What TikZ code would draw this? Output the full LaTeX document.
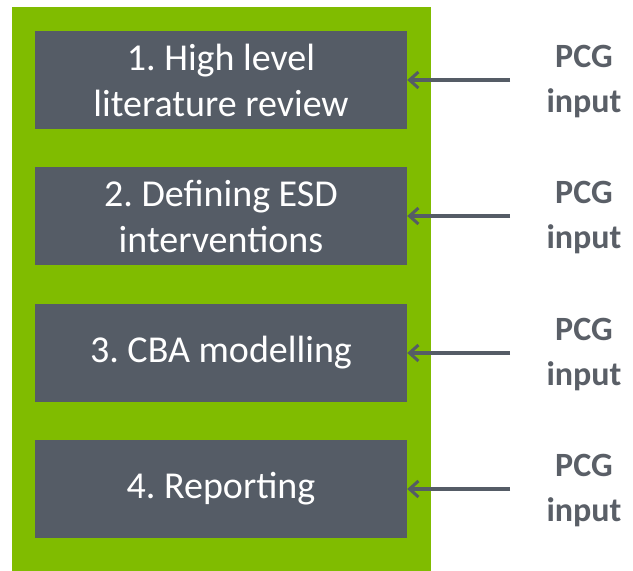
\documentclass[tikz,border=0pt]{standalone}
\usepackage{fontspec}
\setmainfont{Carlito}
\usepackage{tikz}
\usetikzlibrary{positioning,arrows.meta}
\usepackage{xcolor}
\definecolor{frame}{HTML}{80BC00}
\definecolor{stage}{HTML}{555C66}
\definecolor{pcggray}{HTML}{5A5F67}
\frenchspacing

\begin{document}
\begin{tikzpicture}[x=1pt,y=-1pt,
    stagebox/.style={fill=stage,text=white,minimum width=372pt,minimum height=98pt,
      inner sep=0pt,align=center,font=\fontsize{38}{46}\selectfont},
    pcg/.style={text=pcggray,align=center,inner sep=0pt,font=\fontsize{34}{45}\selectfont\bfseries},
    feed/.style={-{Straight Barb[length=9pt,width=16pt,line width=3pt]},line width=3.5pt,draw=stage}]
    \useasboundingbox (0,0) rectangle (633,571);
    % green frame
    \fill[frame] (12,7) rectangle (431,571);
    % stages
    \node[stagebox] (s1) at (221,80) {1. High level\\literature review};
    \node[stagebox] (s2) at (221,216) {2. Defining ESD\\interventions};
    \node[stagebox] (s3) at (221,353) {3. CBA modelling};
    \node[stagebox] (s4) at (221,489) {4. Reporting};
    % PCG inputs
    \node[pcg] (p1) at (584,82) {PCG\\input};
    \node[pcg] (p2) at (584,218) {PCG\\input};
    \node[pcg] (p3) at (584,355) {PCG\\input};
    \node[pcg] (p4) at (584,491) {PCG\\input};
    \coordinate (t1) at (510,80);
    \coordinate (t2) at (510,216);
    \coordinate (t3) at (510,353);
    \coordinate (t4) at (510,489);
    \draw[feed] (t1) -- (s1.east);
    \draw[feed] (t2) -- (s2.east);
    \draw[feed] (t3) -- (s3.east);
    \draw[feed] (t4) -- (s4.east);
\end{tikzpicture}
\end{document}
